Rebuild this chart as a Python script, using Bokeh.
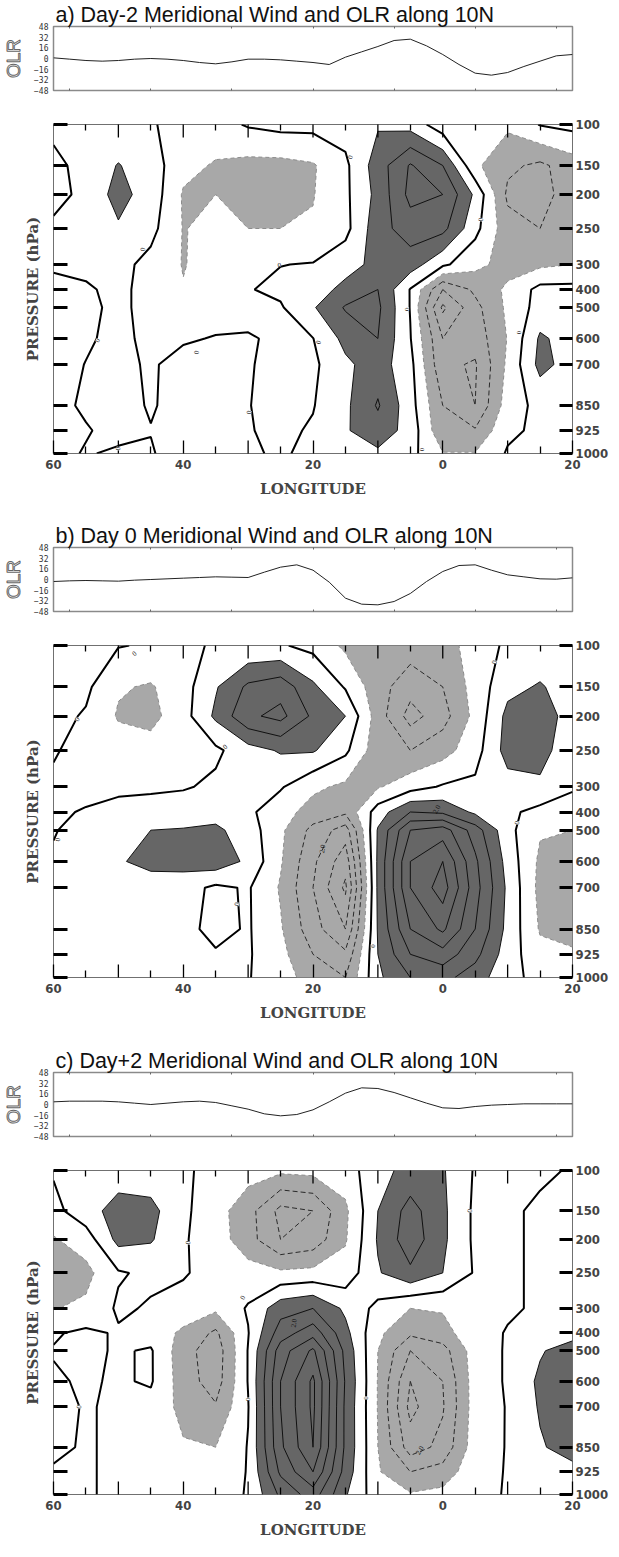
import numpy as np
from bokeh.plotting import figure
from bokeh.layouts import column
from bokeh.models import Range1d, FixedTicker, LinearAxis, LabelSet, ColumnDataSource
from bokeh.embed import file_html
from bokeh.resources import INLINE

# ---------------- data ----------------
lons = [-60, -55, -50, -45, -40, -35, -30, -25, -20, -15, -10, -5, 0, 5, 10, 15, 20]
pressure_levels = [100, 150, 200, 250, 300, 400, 500, 600, 700, 850, 925, 1000]
# vertical axis layout of the pressure levels (axis coordinate, top = 0)
pressure_axis_pos = [0, 41, 70, 104, 140, 165, 183, 214, 240, 281, 306, 329]

olr_lons = [-60, -57.5, -55, -52.5, -50, -47.5, -45, -42.5, -40, -37.5, -35, -32.5,
            -30, -27.5, -25, -22.5, -20, -17.5, -15, -12.5, -10, -7.5, -5, -2.5,
            0, 2.5, 5, 7.5, 10, 12.5, 15, 17.5, 20]
olr_a = [1, -1, -3, -4, -3, -1, 0, -1, -3, -6, -8, -5, -1, -1, -2, -4, -6, -9,
         2, 10, 18, 27, 29, 19, 6, -9, -22, -25, -21, -12, -4, 4, 6]
olr_b = [-3, -2, -1.5, -2, -2.5, -1, 0, 1, 2, 3, 4, 3.5, 3, 11, 18.5, 22, 14, -4,
         -28, -37, -38, -33, -21, -3, 12, 21, 22, 14, 7, 4, 1, 0.5, 2.5]
olr_c = [4, 5, 5, 5, 4, 2, 0, 2, 4, 5, 3, -2, -7, -14, -17, -15, -8, 4, 17, 25,
         24, 18, 10, 2, -5, -6, -3, -1, 0, 1, 1, 1, 1]

# meridional wind (rows = pressure levels top->bottom, cols = lons)
v_a = [
    [0.3, 0.3, 0.3, 0.1, -0.4, -0.4, 0.1, 0.3, 0.3, 0.4, 0.9, 0.6, -0.6, -0.7, -0.8, 0.05, 0.3],
    [-0.3, 0.4, 1.05, 0.5, -0.7, -1.1, -1.3, -1.3, -1.1, -0.2, 1.5, 3.1, 2.0, -0.8, -1.8, -2.2, -1.5],
    [-0.5, 0.4, 1.3, 0.6, -1.1, -1.0, -1.4, -1.4, -1.05, -0.2, 1.3, 3.3, 3.0, 0.8, -2.2, -2.3, -1.6],
    [0.3, 0.4, 0.9, 0.3, -1.05, -0.7, -1.0, -1.0, -0.9, -0.3, 1.6, 2.5, 2.3, 0.3, -1.6, -2.0, -1.5],
    [0.1, 0.2, 0.3, -0.3, -1.05, -0.6, -0.1, -0.02, 0.05, 0.6, 1.3, 1.5, 0.2, -0.7, -1.4, -1.2, -1.0],
    [-0.2, -0.1, 0.2, -0.3, -0.95, -0.5, -0.05, 0.2, 0.5, 1.3, 2.0, -0.05, -3.0, -1.8, -0.8, 0.3, 0.3],
    [-0.3, -0.2, 0.2, -0.3, -0.6, -0.4, -0.2, -0.1, 0.9, 2.1, 2.2, -0.05, -4.2, -2.3, -0.8, 0.4, 0.3],
    [-0.3, -0.1, 0.2, -0.2, -0.1, 0.05, 0.05, -0.1, -0.02, 1.3, 2.0, 0.05, -3.0, -2.6, -0.95, 1.15, 0.6],
    [-0.3, 0.02, 0.2, -0.1, 0.3, 0.4, 0.05, -0.2, -0.2, 0.8, 1.5, 0.3, -2.8, -3.1, -0.8, 1.3, 0.6],
    [-0.2, 0.1, 0.2, -0.05, 0.2, 0.3, 0.02, -0.2, -0.05, 0.8, 2.1, 0.4, -2.0, -3.0, -0.5, 0.3, 0.3],
    [-0.2, -0.05, 0.2, 0.02, 0.3, 0.3, 0.05, -0.2, 0.1, 0.9, 1.6, 0.6, -1.8, -1.9, -0.2, 0.2, 0.2],
    [-0.2, 0.05, -0.1, -0.05, 0.3, 0.3, 0.1, -0.1, 0.2, 0.7, 0.8, 0.3, -0.95, -0.95, 0.1, 0.2, 0.2],
]
v_b = [
    [0.3, 0.2, 0.05, -0.1, -0.2, 0.1, 0.1, 0.1, -0.3, -1.2, -1.5, -1.5, -1.4, -0.6, 0.2, 0.3, 0.2],
    [0.3, 0.2, -0.9, -1.1, -0.4, 0.9, 2.2, 2.6, 1.2, -0.1, -1.6, -2.6, -2.0, -0.6, 0.7, 1.1, 0.5],
    [0.3, -0.1, -1.1, -1.3, -0.4, 1.2, 2.8, 3.3, 1.8, 1.0, -1.5, -3.4, -2.4, -0.7, 1.3, 1.6, 0.5],
    [0.05, -0.2, -0.5, -0.6, -0.3, -0.2, 0.6, 1.1, 1.1, 0.2, -1.6, -2.0, -1.4, -0.4, 1.4, 1.4, 0.3],
    [-0.1, -0.2, -0.2, -0.2, -0.1, 0.2, 0.3, 0.1, -0.8, -1.2, -1.1, -0.4, 0.1, 0.2, 0.6, 0.8, 0.1],
    [-0.1, 0.05, 0.3, 0.5, 0.6, 0.6, 0.2, -0.6, -1.4, -1.8, 0.5, 2.0, 1.8, 0.8, 0.2, -0.3, -0.4],
    [-0.05, 0.3, 0.7, 1.0, 1.05, 1.2, 0.5, -0.8, -2.3, -3.5, 1.1, 4.0, 4.5, 2.5, 0.3, -0.9, -1.0],
    [0.1, 0.2, 0.9, 1.3, 1.4, 1.6, 0.8, -0.9, -2.8, -4.6, 1.2, 5.0, 6.0, 3.2, 0.6, -1.2, -1.6],
    [0.1, 0.1, 0.3, 0.5, 0.4, -0.2, 0.1, -1.1, -3.0, -5.2, 1.2, 5.0, 6.5, 3.4, 0.8, -1.3, -1.8],
    [0.1, 0.1, 0.2, 0.3, 0.3, -0.3, 0.1, -0.9, -2.6, -4.0, 1.1, 4.0, 5.2, 3.0, 0.7, -1.1, -1.5],
    [0.1, 0.1, 0.2, 0.3, 0.2, 0.1, 0.1, -0.7, -2.0, -2.8, 1.0, 3.0, 3.6, 2.3, 0.5, -0.7, -0.8],
    [0.1, 0.1, 0.2, 0.2, 0.2, 0.1, 0.05, -0.5, -1.5, -2.0, 0.8, 2.0, 2.3, 1.5, 0.3, -0.3, -0.4],
]
v_c = [
    [0.1, 0.2, 0.5, 0.4, 0.1, -0.2, -0.6, -0.8, -0.7, -0.5, 0.7, 1.3, 1.1, -0.1, -0.2, -0.1, 0.05],
    [-0.3, 0.6, 1.4, 1.3, 0.2, -0.6, -1.6, -3.3, -3.0, -1.2, 1.0, 2.4, 1.2, -0.2, -0.1, 0.1, 0.1],
    [-1.1, -0.5, 1.3, 1.1, 0.1, -0.5, -1.6, -3.0, -2.6, -1.1, 1.1, 2.6, 1.2, -0.2, -0.1, 0.1, 0.1],
    [-1.4, -1.3, -0.1, 0.2, 0.1, -0.4, -0.6, -0.8, -0.7, -0.6, 0.9, 1.8, 1.0, -0.1, -0.1, 0.1, 0.1],
    [-1.05, -0.8, 0.15, -0.1, -0.4, -0.8, 0.1, 1.6, 2.0, 0.8, -0.3, -1.0, -0.9, -0.2, -0.1, 0.1, 0.1],
    [-0.1, 0.2, -0.1, -0.4, -1.2, -2.2, -0.05, 2.5, 3.6, 1.3, -0.8, -1.8, -1.4, -0.3, 0.05, 0.4, 0.6],
    [0.05, 0.2, -0.1, 0.1, -1.6, -2.6, 0.05, 3.5, 5.2, 1.7, -1.0, -3.0, -2.4, -0.5, 0.1, 0.9, 1.5],
    [-0.1, 0.1, -0.1, 0.1, -1.5, -2.5, 0.05, 4.0, 6.2, 1.9, -1.05, -4.0, -3.0, -0.5, 0.1, 1.2, 1.9],
    [-0.2, 0.05, -0.1, -0.3, -1.3, -1.9, -0.05, 4.0, 6.2, 1.8, -1.05, -4.3, -3.1, -0.5, 0.05, 1.1, 1.8],
    [-0.1, 0.05, -0.1, -0.3, -0.9, -1.0, 0.05, 3.8, 6.0, 1.8, -1.0, -3.5, -2.7, -0.45, 0.05, 0.9, 1.4],
    [0.05, 0.05, -0.1, -0.2, -0.6, -0.6, 0.05, 3.2, 5.0, 1.6, -0.9, -2.0, -1.6, -0.3, 0.05, 0.5, 0.7],
    [0.05, 0.05, -0.1, -0.2, -0.3, -0.3, 0.05, 2.2, 3.5, 1.1, -0.6, -0.9, -0.7, -0.2, 0.05, 0.2, 0.3],
]

# contour labels seen on the reference (text, lon, hPa, angle in degrees)
clabels_a = [("0", -46.2, 279, 80), ("0", -25.2, 300, 0), ("0", -53.2, 608, 60),
             ("0", -50.0, 984, 80), ("0", -37.9, 654, 80), ("0", -29.8, 871, 80),
             ("0", -19.1, 615, 70), ("0", 5.9, 237, 80), ("0", -5.5, 506, 90),
             ("0", -3.2, 987, 90), ("0", 11.7, 581, 90), ("0", -14.2, 140, 80)]
clabels_b = [("0", -47.5, 110, 40), ("0", -56.3, 205, 60), ("0", -33.5, 245, 40),
             ("0", -59.3, 530, 80), ("0", 8.0, 120, 80), ("0", 11.5, 460, 80),
             ("0", -31.7, 760, 80), ("0", -10.8, 900, 90),
             ("2.0", -18.5, 560, 80), ("2.0", -0.9, 390, 60)]
clabels_c = [("0", -39.2, 205, 80), ("0", -30.8, 285, 60), ("0", -30.0, 670, 90),
             ("0", -11.8, 665, 90), ("0", 4.2, 150, 80), ("0", -56.0, 700, 80),
             ("2.0", -22.9, 360, 80), ("2.0", -3.5, 860, 60)]

titles = ["a) Day-2 Meridional Wind and OLR along 10N",
          "b) Day 0 Meridional Wind and OLR along 10N",
          "c) Day+2 Meridional Wind and OLR along 10N"]

olr_ticks = [-57.5, -45, -32.5, -20, -7.5, 5, 17.5]
olr_yticks = [-48, -32, -16, 0, 16, 32, 48]
lon_labelled = [-60, -40, -20, 0, 20]
lon_long = [-50, -30, -10, 10]
lon_short = [-55, -45, -35, -25, -15, -5, 5, 15]
lon_top_long = [-50, -40, -30, -20, -10, 0, 10]
lon_label_text = {-60: "60", -40: "40", -20: "20", 0: "0", 20: "20"}

W = 611
BL, BR = 47, 36


def olr_fig(title, vals):
    p = figure(width=W, height=100, x_range=Range1d(-60, 20), y_range=Range1d(-48, 48),
               output_backend="svg", toolbar_location=None, title=title,
               min_border_left=BL, min_border_right=BR, min_border_top=25, min_border_bottom=10)
    p.title.text_font = "Liberation Sans"
    p.title.text_font_size = "21.5px"
    p.title.text_font_style = "normal"
    p.title.text_color = "#111"
    p.title.align = "left"
    p.title.offset = 2
    p.title.standoff = 0
    p.grid.visible = False
    p.outline_line_color = "#8a8a8a"
    p.outline_line_width = 1.5
    for ax in p.xaxis:
        ax.ticker = FixedTicker(ticks=[], minor_ticks=olr_ticks)
        ax.minor_tick_in = 2
        ax.minor_tick_out = 0
        ax.minor_tick_line_color = "#666"
        ax.major_tick_line_color = None
        ax.axis_line_color = None
        ax.major_label_standoff = 0
    top = LinearAxis(ticker=FixedTicker(ticks=[], minor_ticks=olr_ticks),
                     minor_tick_in=2, minor_tick_out=0, minor_tick_line_color="#666",
                     major_tick_line_color=None, axis_line_color=None, major_label_standoff=0)
    p.add_layout(top, "above")
    for ax in p.yaxis:
        ax.ticker = FixedTicker(ticks=olr_yticks)
        ax.major_label_text_font = "DejaVu Sans Mono"
        ax.major_label_text_font_size = "8px"
        ax.major_label_text_color = "#333"
        ax.major_tick_in = 0
        ax.major_tick_out = 0
        ax.minor_tick_line_color = None
        ax.axis_line_color = None
        ax.major_label_standoff = 5
        ax.axis_label = "OLR"
        ax.axis_label_text_font = "Liberation Sans"
        ax.axis_label_text_font_style = "normal"
        ax.axis_label_text_font_size = "19px"
        ax.axis_label_text_color = "#7a7a7a"
        ax.axis_label_standoff = 7
        try:  # hollow lettering like the reference, when supported
            ax.axis_label_text_outline_color = "#666"
            ax.axis_label_text_color = "white"
        except (AttributeError, ValueError):
            pass
    p.line(olr_lons, vals, line_color="#222", line_width=1)
    return p


def contour_fig(vals, clabels, height, bottom):
    p = figure(width=W, height=height, x_range=Range1d(-60, 20), y_range=Range1d(329, 0),
               output_backend="svg", toolbar_location=None, y_axis_location="right",
               min_border_left=BL, min_border_right=BR, min_border_top=24, min_border_bottom=bottom)
    p.grid.visible = False
    p.outline_line_color = "#707070"
    p.outline_line_width = 1
    z = np.array(vals, dtype=float)
    x = np.array(lons, dtype=float)
    y = np.array(pressure_axis_pos, dtype=float)
    p.contour(x, y, z, levels=[-20, -1], fill_color="#a8a8a8")
    p.contour(x, y, z, levels=[1, 20], fill_color="#666666")
    p.contour(x, y, z, levels=[-6, -5, -4, -3, -2], line_color="#2a2a2a", line_width=1, line_dash="5 3")
    p.contour(x, y, z, levels=[-1], line_color="#8c8c8c", line_width=1, line_dash="4 3")
    p.contour(x, y, z, levels=[1, 2, 3, 4, 5, 6], line_color="#111", line_width=1)
    p.contour(x, y, z, levels=[0], line_color="black", line_width=2)

    # contour labels: "0" labels sit on a white gap of the zero line, "2.0" drawn bare
    for kind, bg in (("0", "white"), ("2.0", None)):
        sel = [c for c in clabels if c[0] == kind]
        if not sel:
            continue
        src = ColumnDataSource(dict(
            x=[c[1] for c in sel],
            y=list(np.interp([c[2] for c in sel], pressure_levels, pressure_axis_pos)),
            text=[c[0] for c in sel],
            angle=[np.deg2rad(c[3]) for c in sel]))
        p.add_layout(LabelSet(x="x", y="y", text="text", angle="angle", source=src,
                              text_font="DejaVu Sans", text_font_size="7px", text_color="#111",
                              text_align="center", text_baseline="middle",
                              background_fill_color=bg))

    # long inner tick marks at 10 degree spacing (top and bottom edges)
    p.scatter(x=lon_top_long, y=[pressure_axis_pos[0]] * len(lon_top_long), marker="dash",
              angle=np.pi / 2, size=26, line_color="black", line_width=1.3)
    p.scatter(x=lon_long, y=[pressure_axis_pos[-1]] * len(lon_long), marker="dash",
              angle=np.pi / 2, size=26, line_color="black", line_width=1.3)

    for ax in p.xaxis:
        ax.ticker = FixedTicker(ticks=lon_labelled, minor_ticks=lon_short)
        ax.major_label_overrides = lon_label_text
        ax.major_label_text_font = "DejaVu Sans Condensed"
        ax.major_label_text_font_style = "bold"
        ax.major_label_text_font_size = "13px"
        ax.major_tick_in = 13
        ax.major_tick_out = 0
        ax.minor_tick_in = 7
        ax.minor_tick_out = 0
        ax.major_tick_line_width = 1.3
        ax.minor_tick_line_width = 1.3
        ax.axis_line_color = None
        ax.major_label_standoff = 6
        ax.axis_label = "LONGITUDE"
        ax.axis_label_text_font = "DejaVu Serif"
        ax.axis_label_text_font_style = "bold"
        ax.axis_label_text_font_size = "15px"
        ax.axis_label_standoff = 8
    top = LinearAxis(ticker=FixedTicker(ticks=[], minor_ticks=lon_short),
                     minor_tick_in=6, minor_tick_out=0, minor_tick_line_width=1.3,
                     major_tick_line_color=None, axis_line_color=None, major_label_standoff=0)
    p.add_layout(top, "above")
    overrides = {pos: str(lev) for pos, lev in zip(pressure_axis_pos, pressure_levels)}
    for ax in p.yaxis:
        ax.ticker = FixedTicker(ticks=pressure_axis_pos)
        ax.major_label_overrides = overrides
        ax.major_label_text_font = "DejaVu Sans Condensed"
        ax.major_label_text_font_style = "bold"
        ax.major_label_text_font_size = "13px"
        ax.major_tick_in = 13
        ax.major_tick_out = 0
        ax.major_tick_line_width = 3
        ax.minor_tick_line_color = None
        ax.axis_line_color = None
        ax.major_label_standoff = 3
    left = LinearAxis(ticker=FixedTicker(ticks=[], minor_ticks=pressure_axis_pos),
                      minor_tick_in=14, minor_tick_out=0, minor_tick_line_width=3,
                      major_tick_line_color=None, axis_line_color=None, major_label_standoff=0,
                      axis_label="PRESSURE (hPa)", axis_label_text_font="DejaVu Serif",
                      axis_label_text_font_style="bold", axis_label_text_font_size="15px",
                      axis_label_standoff=12)
    p.add_layout(left, "left")
    return p


figs = [
    olr_fig(titles[0], olr_a), contour_fig(v_a, clabels_a, 421, 68),
    olr_fig(titles[1], olr_b), contour_fig(v_b, clabels_b, 425, 69),
    olr_fig(titles[2], olr_c), contour_fig(v_c, clabels_c, 395, 44),
]
layout = column(*figs, spacing=0)
open("out.html", "w").write(file_html(layout, INLINE))
